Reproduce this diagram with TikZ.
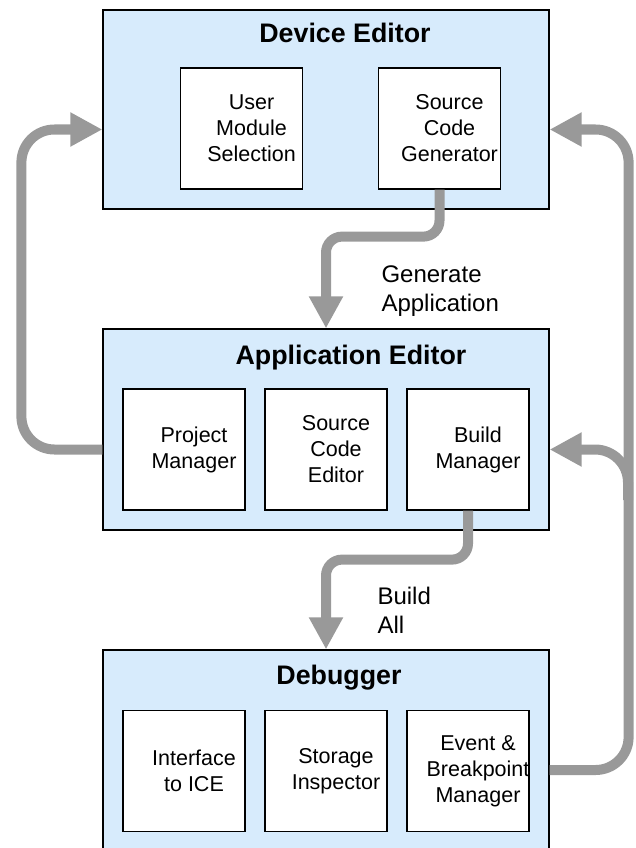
\documentclass[tikz,border=0pt]{standalone}
\usepackage{fontspec}
\setmainfont{Liberation Sans}
\usetikzlibrary{arrows.meta,positioning}
\definecolor{panelblue}{HTML}{D7EBFC}
\definecolor{flowgray}{HTML}{999999}

\begin{document}
\begin{tikzpicture}[x=1pt,y=-1pt,node distance=142pt,
    group node/.style={draw,line width=1.2pt,fill=panelblue,minimum width=446pt},
    unit node/.style={draw,line width=1.2pt,fill=white,minimum width=122pt,minimum height=121pt},
    unit text/.style={align=center,xshift=10pt,font=\fontsize{21.5}{26}\selectfont},
    title text/.style={anchor=base,font=\fontsize{26.8}{30}\selectfont\bfseries},
    flow label/.style={anchor=base west,align=left,font=\fontsize{24}{29}\selectfont},
    flow/.style={draw=flowgray,line width=10pt,rounded corners=33pt,-{Triangle[length=32pt,width=32pt]}}]
                \useasboundingbox (0,0) rectangle (636,848);
                \clip (0,0) rectangle (636,848);

                \node[group node,minimum height=199pt] (dev) at (326,109.5) {};
                \node[title text] (dev title) at (345,43) {Device Editor};
                \node[unit node] (ums) at (241.5,128.5) {};
                \node[unit node,node distance=198pt,right of=ums] (scg) {};
                \node[unit text] (ums text) at (ums) {User\\Module\\Selection};
                \node[unit text] (scg text) at (scg) {Source\\Code\\Generator};

                \node[group node,minimum height=201pt] (app) at (326,429.5) {};
                \node[title text] (app title) at (351,364) {Application Editor};
                \node[unit node] (pm) at (184,449.5) {};
                \node[unit node,right of=pm] (sce) {};
                \node[unit node,right of=sce] (bm) {};
                \node[unit text] (pm text) at (pm) {Project\\Manager};
                \node[unit text] (sce text) at (sce) {Source\\Code\\Editor};
                \node[unit text] (bm text) at (bm) {Build\\Manager};

                \node[group node,minimum height=240pt] (dbg) at (326,770) {};
                \node[title text] (dbg title) at (339,684) {Debugger};
                \node[unit node] (ice) at (184,771) {};
                \node[unit node,right of=ice] (si) {};
                \node[unit node,right of=si] (ebm) {};
                \node[unit text] (ice text) at (ice) {Interface\\to ICE};
                \node[unit text] (si text) at (si) {Storage\\Inspector};
                \node[unit text] (ebm text) at (ebm) {Event \&\\Breakpoint\\Manager};

                \node[flow label] (gen label) at (378,311) {Generate\\Application};
                \node[flow label] (build label) at (374,633) {Build\\All};

                \coordinate (split) at (628,500);
                \draw[flow,rounded corners=16pt] (scg.south) -- ++(0,47) -| (app.north);
                \draw[flow,rounded corners=16pt] (bm.south) -- ++(0,49) -| (dbg.north);
                \draw[flow] ([yshift=-20pt]app.west) -- ++(-81,0) |- ([yshift=-20pt]dev.west);
                \draw[flow] (dbg.east) -- ++(79,0) |- ([yshift=-20pt]dev.east);
                \draw[flow] (split) |- ([yshift=-20pt]app.east);
            \end{tikzpicture}
\end{document}
